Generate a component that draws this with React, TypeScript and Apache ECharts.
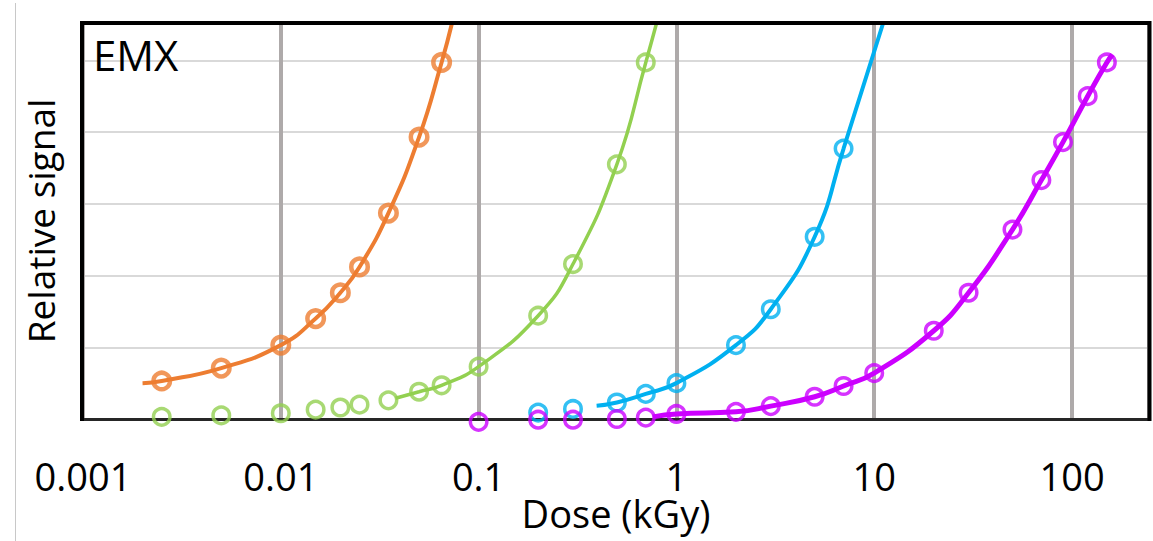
import React, { useEffect, useRef } from "react";
import * as echarts from "echarts";

// Tick labels of the logarithmic dose axis (kGy)
const doseTickLabels = [0.001, 0.01, 0.1, 1, 10, 100];

// Orange series
const orangeDose = [0.0025, 0.005, 0.01, 0.015, 0.02, 0.025, 0.035, 0.05, 0.065];
const orangeSignal = [0.53, 0.71, 1.03, 1.4, 1.76, 2.12, 2.87, 3.93, 4.97];
const orangeFitDose = [0.002, 0.0025, 0.005, 0.01, 0.015, 0.02, 0.025, 0.035, 0.05, 0.065, 0.0734];
const orangeFitSignal = [0.5, 0.53, 0.71, 1.03, 1.4, 1.76, 2.12, 2.87, 3.93, 4.97, 5.52];

// Green series
const greenDose = [0.0025, 0.005, 0.01, 0.015, 0.02, 0.025, 0.035, 0.05, 0.065, 0.1, 0.2, 0.3, 0.5, 0.7];
const greenSignal = [0.03, 0.05, 0.08, 0.13, 0.16, 0.2, 0.26, 0.38, 0.47, 0.73, 1.44, 2.16, 3.55, 4.97];
const greenFitDose = [0.038, 0.05, 0.065, 0.1, 0.2, 0.3, 0.5, 0.7, 0.794];
const greenFitSignal = [0.29, 0.38, 0.47, 0.73, 1.44, 2.16, 3.55, 4.97, 5.52];

// Blue series
const blueDose = [0.2, 0.3, 0.5, 0.7, 1, 2, 3, 5, 7];
const blueSignal = [0.09, 0.14, 0.23, 0.35, 0.5, 1.03, 1.53, 2.54, 3.77];
const blueFitDose = [0.395, 0.5, 0.7, 1, 2, 3, 5, 7, 11.1];
const blueFitSignal = [0.185, 0.23, 0.35, 0.5, 1.03, 1.53, 2.54, 3.77, 5.52];

// Purple series
const purpleDose = [0.1, 0.2, 0.3, 0.5, 0.7, 1, 2, 3, 5, 7, 10, 20, 30, 50, 70, 90, 120, 150];
const purpleSignal = [-0.04, -0.01, -0.01, 0.0, 0.02, 0.07, 0.1, 0.18, 0.31, 0.46, 0.64, 1.23, 1.76, 2.64, 3.33, 3.86, 4.5, 4.97];
const purpleFitDose = [0.76, 1, 2, 3, 5, 7, 10, 20, 30, 50, 70, 90, 120, 150, 160];
const purpleFitSignal = [0.03, 0.07, 0.1, 0.18, 0.31, 0.46, 0.64, 1.23, 1.76, 2.64, 3.33, 3.86, 4.5, 4.97, 5.08];

const ORANGE = "#ED7D31";
const GREEN = "#92D050";
const BLUE = "#00B0F0";
const PURPLE = "#CC00FF";

const zip = (xs: number[], ys: number[]) => xs.map((x, i) => [x, ys[i]]);

const FONT = "'Open Sans', 'Noto Sans', sans-serif";

const GRID_LEFT = 83;
const GRID_TOP = 23;
const GRID_RIGHT_X = 1149;
const GRID_BOTTOM_Y = 419;

export default function App() {
  const ref = useRef<HTMLDivElement>(null);

  useEffect(() => {
    if (!ref.current) return;
    const chart = echarts.init(ref.current, undefined, { renderer: "svg" });

    const fitLine = (name: string, xs: number[], ys: number[], color: string, width: number) => ({
      name: name + " fit",
      type: "line",
      data: zip(xs, ys),
      smooth: 0.5,
      showSymbol: false,
      symbol: "none",
      lineStyle: { color, width },
      z: 3,
      clip: true,
    });

    const markers = (name: string, xs: number[], ys: number[], color: string, bw: number) => ({
      name,
      type: "scatter",
      data: zip(xs, ys),
      symbol: "circle",
      symbolSize: 16.5,
      itemStyle: { color: "rgba(255,255,255,0)", borderColor: color, borderWidth: bw },
      z: 4,
      clip: false,
    });

    chart.setOption({
      animation: false,
      backgroundColor: "#ffffff",
      grid: {
        left: GRID_LEFT,
        top: GRID_TOP,
        right: 1153 - GRID_RIGHT_X,
        bottom: 541 - GRID_BOTTOM_Y,
        containLabel: false,
      },
      xAxis: {
        type: "log",
        logBase: 10,
        min: 0.001,
        max: 245,
        name: "Dose (kGy)",
        nameLocation: "middle",
        nameGap: 79,
        nameMoveOverlap: false,
        nameTextStyle: { fontFamily: FONT, fontSize: 38, lineHeight: 30, color: "#000" },
        axisLine: { show: true, lineStyle: { color: "#262626", width: 3 } },
        axisTick: { show: false },
        axisLabel: {
          show: true,
          margin: 42,
          lineHeight: 30,
          showMaxLabel: false,
          fontFamily: FONT,
          fontSize: 38,
          color: "#000",
          formatter: (v: number) => {
            const n = parseFloat(Number(v).toPrecision(6));
            return doseTickLabels.some((t) => Math.abs(t - n) / t < 1e-6) ? String(n) : "";
          },
        },
        splitLine: { show: true, lineStyle: { color: "#AEAAAA", width: 4 } },
      },
      yAxis: {
        type: "value",
        min: 0,
        max: 5.52,
        interval: 1,
        name: "Relative signal",
        nameLocation: "middle",
        nameGap: 24,
        nameMoveOverlap: false,
        nameTextStyle: { fontFamily: FONT, fontSize: 37, color: "#000" },
        axisLine: { show: false },
        axisTick: { show: false },
        axisLabel: { show: false },
        splitLine: { show: true, lineStyle: { color: "#D9D9D9", width: 2 } },
      },
      graphic: [
        {
          type: "line",
          z: 100,
          shape: { x1: GRID_LEFT - 1, y1: GRID_TOP - 2, x2: GRID_LEFT - 1, y2: GRID_BOTTOM_Y + 2 },
          style: { stroke: "#000", lineWidth: 4 },
        },
        {
          type: "line",
          z: 100,
          shape: { x1: GRID_LEFT - 3, y1: GRID_TOP, x2: GRID_RIGHT_X + 2, y2: GRID_TOP },
          style: { stroke: "#000", lineWidth: 4 },
        },
        {
          type: "line",
          z: 100,
          shape: { x1: GRID_RIGHT_X + 0.5, y1: GRID_TOP - 2, x2: GRID_RIGHT_X + 0.5, y2: GRID_BOTTOM_Y + 2 },
          style: { stroke: "#000", lineWidth: 4 },
        },
        {
          type: "line",
          z: 100,
          shape: { x1: 15.5, y1: 3, x2: 15.5, y2: 541 },
          style: { stroke: "#C8C8C8", lineWidth: 1 },
        },
        {
          type: "text",
          z: 101,
          x: 93,
          y: 54,
          style: {
            text: "EMX",
            fontFamily: FONT,
            fontSize: 42,
            fill: "#000",
            textVerticalAlign: "middle",
            verticalAlign: "middle",
          },
        },
      ],
      series: [
        fitLine("Orange", orangeFitDose, orangeFitSignal, ORANGE, 4),
        fitLine("Green", greenFitDose, greenFitSignal, GREEN, 3.5),
        fitLine("Blue", blueFitDose, blueFitSignal, BLUE, 4),
        fitLine("Purple", purpleFitDose, purpleFitSignal, PURPLE, 5),
        markers("Orange", orangeDose, orangeSignal, ORANGE, 4.5),
        markers("Green", greenDose, greenSignal, GREEN, 3.5),
        markers("Blue", blueDose, blueSignal, BLUE, 3.5),
        markers("Purple", purpleDose, purpleSignal, PURPLE, 3.5),
      ],
    });

    return () => chart.dispose();
  }, []);

  return (
    <div
      ref={ref}
      style={{ position: "fixed", left: 0, top: 0, width: 1153, height: 541, background: "#fff" }}
    />
  );
}
